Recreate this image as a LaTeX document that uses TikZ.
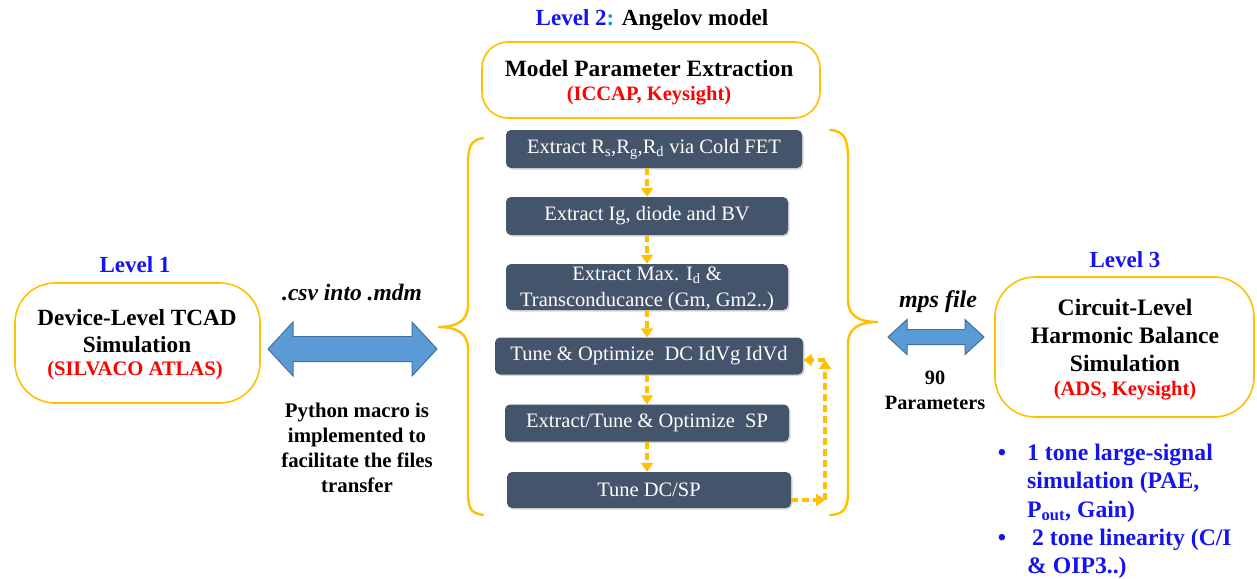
\documentclass[tikz,border=0pt]{standalone}
\usepackage{fontspec}
\setmainfont{LiberationSerif-Regular.ttf}[BoldFont=LiberationSerif-Bold.ttf,ItalicFont=LiberationSerif-Italic.ttf,BoldItalicFont=LiberationSerif-BoldItalic.ttf]
\usetikzlibrary{arrows.meta,calc,shadows}
\definecolor{gold}{HTML}{FFC000}
\definecolor{slate}{HTML}{44546A}
\definecolor{lvlblue}{HTML}{1414F0}
\definecolor{colonblue}{HTML}{00A0E8}
\definecolor{redt}{HTML}{FF0000}
\definecolor{arrowfill}{HTML}{5B9BD5}
\definecolor{arrowedge}{HTML}{41719C}
\newcommand\fsz[2]{\fontsize{#1}{#2}\selectfont}
\begin{document}
\begin{tikzpicture}[x=1pt,y=-1pt,
  stepbox/.style={draw=none,fill=slate,rounded corners=5pt,text=white,align=center,
    inner sep=0pt,font=\fsz{20.5}{25},
    drop shadow={opacity=0.3,shadow xshift=1.5pt,shadow yshift=-1.5pt}},
  goldbox/.style={draw=gold,line width=1.6pt,fill=white,align=center,inner sep=0pt},
  dasharrow/.style={draw=gold,line width=3.5pt,dash pattern=on 7pt off 4pt,
    -{Triangle[length=9pt,width=12pt]}},
  brace/.style={draw=gold,line width=2.4pt,line cap=round},
  fatarrow/.style={fill=arrowfill,draw=arrowedge,line width=1pt},
  lbl/.style={inner sep=0pt,align=center},
  bultxt/.style={inner sep=0pt,anchor=base west,text=lvlblue,font=\bfseries\fsz{23.7}{28}}]
\useasboundingbox (0,0) rectangle (1257,578);

% Level 2 header and model box
\node[lbl,font=\bfseries\fsz{23}{26}] (lvl2) at (652,20)
  {\textcolor{lvlblue}{Level 2}\textcolor{colonblue}{:} Angelov model};
\node[goldbox,rounded corners=26pt,minimum width=338pt,minimum height=76pt] (mpe) at (651,80) {};
\node[lbl,font=\bfseries\fsz{23.4}{26}] (mpet) at (649,68) {Model Parameter Extraction};
\node[lbl,font=\bfseries\fsz{20.5}{24},text=redt] (mpes) at (649,96) {(ICCAP, Keysight)};

% step boxes
\node[stepbox,minimum width=296pt,minimum height=38pt] (b1) at (654,149)
  {Extract R\textsubscript{s},R\textsubscript{g},R\textsubscript{d} via Cold FET};
\node[stepbox,minimum width=282pt,minimum height=38pt] (b2) at (647,216)
  {Extract Ig, diode and BV};
\node[stepbox,minimum width=282pt,minimum height=46pt] (b3) at (647,287) {};
\node[lbl,text=white,font=\fsz{20.5}{26.5}] (b3t) at (647,289)
  {Extract Max. I\textsubscript{d} \&\\Transconducance (Gm, Gm2..)};
\node[stepbox,minimum width=308pt,minimum height=37pt] (b4) at (649,356)
  {Tune \& Optimize\ \ DC IdVg IdVd};
\node[stepbox,minimum width=284pt,minimum height=37pt] (b5) at (647,423)
  {Extract/Tune \& Optimize\ \ SP};
\node[stepbox,minimum width=284pt,minimum height=36pt] (b6) at (649,490)
  {Tune DC/SP};

\draw[dasharrow] (b2.north |- b1.south) -- (b2.north);
\draw[dasharrow] (b2.south) -- (b3.north);
\draw[dasharrow] (b3.south) -- (b3.south |- b4.north);
\draw[dasharrow] (b3.south |- b4.south) -- (b5.north);
\draw[dasharrow] (b5.south) -- (b5.south |- b6.north);

% feedback loop
\coordinate (fbb) at (825,500);
\coordinate (fbt) at (825,360);
\draw[dasharrow] (b6.east |- fbb) -- (fbb);
\draw[dasharrow] (fbb) -- (fbt);
\draw[dasharrow] (fbt) -- (b4.east |- fbt);

% braces
\draw[brace] (483,138) .. controls (470,140) and (468,148) .. (468,165)
  -- (468,305) .. controls (468,320) and (458,327) .. (438,327)
  .. controls (458,327) and (468,334) .. (468,349)
  -- (468,490) .. controls (468,508) and (470,513) .. (483,515);
\draw[brace] (830,130) .. controls (845,131) and (848,140) .. (848,160)
  -- (848,300) .. controls (848,315) and (858,322) .. (878,322)
  .. controls (858,322) and (848,329) .. (848,344)
  -- (848,490) .. controls (848,508) and (845,514) .. (830,515);

% Level 1
\node[lbl,font=\bfseries\fsz{23}{26},text=lvlblue] (lvl1) at (135,265) {Level 1};
\node[goldbox,rounded corners=40pt,minimum width=245pt,minimum height=120pt] (tcad) at (137.5,343) {};
\node[lbl,font=\bfseries\fsz{23.2}{26.5}] (tcadt) at (137,331) {Device-Level TCAD\\Simulation};
\node[lbl,font=\bfseries\fsz{20.6}{24},text=redt] (tcads) at (135,371) {(SILVACO ATLAS)};

% big double arrow
\draw[fatarrow] (268,349) -- (293,322) -- (293,336.5) -- (412,336.5) -- (412,322)
  -- (437,349) -- (412,376) -- (412,361.5) -- (293,361.5) -- (293,376) -- cycle;
\node[lbl,font=\bfseries\itshape\fsz{23.5}{26}] (csv) at (352,293) {.csv into .mdm};
\node[lbl,font=\bfseries\fsz{20.8}{25}] (py) at (357,448)
  {Python macro is\\implemented to\\facilitate the files\\transfer};

% small double arrow
\draw[fatarrow] (888,337) -- (907,319.5) -- (907,329.5) -- (965,329.5) -- (965,319.5)
  -- (984,337) -- (965,354.5) -- (965,344.5) -- (907,344.5) -- (907,354.5) -- cycle;
\node[lbl,font=\bfseries\itshape\fsz{24}{26}] (mps) at (938,302) {mps file};
\node[lbl,font=\bfseries\fsz{20.3}{25}] (par) at (935,390) {90\\Parameters};

% Level 3
\node[lbl,font=\bfseries\fsz{23}{26},text=lvlblue] (lvl3) at (1125,260) {Level 3};
\node[goldbox,rounded corners=40pt,minimum width=259pt,minimum height=140pt] (hb) at (1124.5,347) {};
\node[lbl,font=\bfseries\fsz{23.6}{28}] (hbt) at (1125,335) {Circuit-Level\\Harmonic Balance\\Simulation};
\node[lbl,font=\bfseries\fsz{20.5}{24},text=redt] (hbs) at (1125,391) {(ADS, Keysight)};

% bullets
\node[bultxt,anchor=base] (d1) at (1002,460) {\textbullet};
\node[bultxt] (l1) at (1027,460) {1 tone large-signal};
\node[bultxt] (l2) at (1027,488.5) {simulation (PAE,};
\node[bultxt] (l3) at (1027,517) {P\textsubscript{out}, Gain)};
\node[bultxt,anchor=base] (d2) at (1002,545.5) {\textbullet};
\node[bultxt] (l4) at (1032,545.5) {2 tone linearity (C/I};
\node[bultxt] (l5) at (1027,573) {\& OIP3..)};
\end{tikzpicture}
\end{document}
